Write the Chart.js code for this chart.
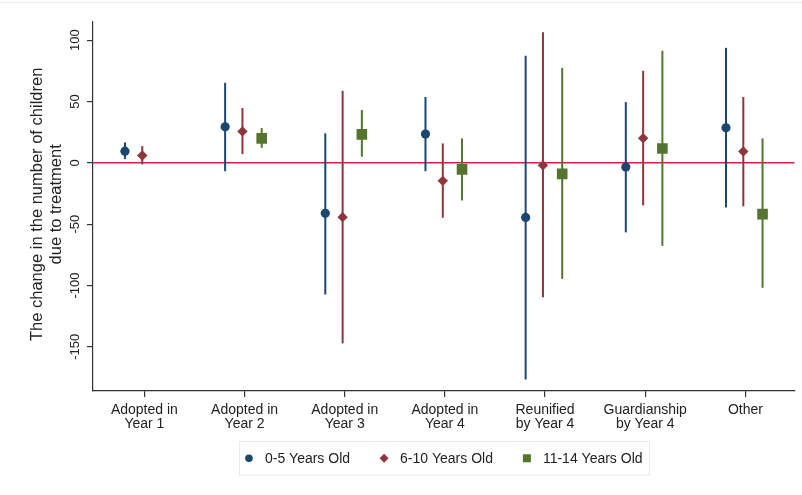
<!DOCTYPE html>
<html>
<head>
<meta charset="utf-8">
<script src="https://cdn.jsdelivr.net/npm/chart.js@4"></script>
<style>
  body{margin:0;background:#fff}
  #wrap{width:802px;height:495px}
</style>
</head>
<body>
<div id="wrap"><canvas id="chart" width="802" height="495"></canvas></div>
<script>
// categories on the x axis (two-line labels)
const categories = [
  ['Adopted in','Year 1'],
  ['Adopted in','Year 2'],
  ['Adopted in','Year 3'],
  ['Adopted in','Year 4'],
  ['Reunified','by Year 4'],
  ['Guardianship','by Year 4'],
  ['Other']
];
const yTicks = [100, 50, 0, -50, -100, -150];
const yTitle = ['The change in the number of children', 'due to treatment'];

const seriesNames = ['0-5 Years Old', '6-10 Years Old', '11-14 Years Old'];

// point estimates and 95% bounds
const est0_5   = [9.5, 29.3, -41.2, 23.4, -44.5, -3.5, 28.5];
const lo0_5    = [3.0, -6.8, -107.3, -6.8, -176.6, -56.7, -36.4];
const hi0_5    = [16.6, 65.2, 24.0, 53.6, 87.2, 49.5, 93.7];

const est6_10  = [6.0, 25.6, -44.3, -14.7, -2.1, 20.1, 9.3];
const lo6_10   = [-1.3, 7.1, -147.2, -44.8, -109.5, -34.7, -35.5];
const hi6_10   = [13.6, 44.6, 58.7, 15.8, 106.3, 75.0, 53.6];

const est11_14 = [null, 19.9, 23.2, -5.4, -9.0, 11.7, -41.8];
const lo11_14  = [null, 12.2, 4.9, -30.7, -94.6, -67.7, -101.9];
const hi11_14  = [null, 28.3, 43.0, 19.9, 77.4, 91.3, 19.9];

const FONT = "'Liberation Sans', Arial, sans-serif";
const colors = ['#1a476f', '#90353b', '#55752f'];
const offsets = [-0.194, -0.021, 0.171];
const styles = ['circle', 'rectRot', 'rect'];
const radii = [4.6, 5.2, 7.5];

const groups = [
  {est: est0_5, lo: lo0_5, hi: hi0_5},
  {est: est6_10, lo: lo6_10, hi: hi6_10},
  {est: est11_14, lo: lo11_14, hi: hi11_14}
];

function buildPoints(g, k){
  const pts = [];
  g.est.forEach((v, i) => {
    if(v === null) return;
    pts.push({x: i + 1 + offsets[k], y: v, lo: g.lo[i], hi: g.hi[i]});
  });
  return pts;
}

const datasets = groups.map((g, k) => ({
  label: seriesNames[k],
  data: buildPoints(g, k),
  backgroundColor: colors[k],
  borderColor: colors[k],
  borderWidth: 0,
  pointStyle: styles[k],
  pointRadius: radii[k],
  pointHoverRadius: radii[k]
}));

// zero line + confidence whiskers, drawn under the markers
const whiskers = {
  id: 'whiskers',
  beforeDatasetsDraw(chart){
    const {ctx, chartArea, scales:{x, y}} = chart;
    ctx.save();
    const y0 = y.getPixelForValue(0);
    ctx.strokeStyle = '#d6204a';
    ctx.lineWidth = 1.5;
    ctx.beginPath();
    ctx.moveTo(chartArea.left, y0);
    ctx.lineTo(chartArea.right, y0);
    ctx.stroke();
    chart.data.datasets.forEach(ds => {
      ctx.strokeStyle = ds.borderColor;
      ctx.lineWidth = 2;
      ds.data.forEach(p => {
        const px = x.getPixelForValue(p.x);
        ctx.beginPath();
        ctx.moveTo(px, y.getPixelForValue(p.lo));
        ctx.lineTo(px, y.getPixelForValue(p.hi));
        ctx.stroke();
      });
    });
    ctx.restore();
  }
};

// rotated y tick labels, y title and boxed legend
const decor = {
  id: 'decor',
  afterDraw(chart){
    const {ctx, chartArea, scales:{y}} = chart;
    ctx.save();
    // faint frame line at top
    ctx.strokeStyle = '#ececec';
    ctx.lineWidth = 1;
    ctx.beginPath();
    ctx.moveTo(0, 2.5); ctx.lineTo(802, 2.5);
    ctx.stroke();

    ctx.fillStyle = '#222';
    ctx.font = '13px ' + FONT;
    ctx.textAlign = 'center';
    ctx.textBaseline = 'alphabetic';
    yTicks.forEach(v => {
      ctx.save();
      ctx.translate(chartArea.left - 14.5, y.getPixelForValue(v));
      ctx.rotate(-Math.PI / 2);
      ctx.fillText(String(v), 0, 0);
      ctx.restore();
    });

    ctx.font = '16.5px ' + FONT;
    const midY = (chartArea.top + chartArea.bottom) / 2 - 2;
    yTitle.forEach((line, i) => {
      ctx.save();
      ctx.translate(41.5 + i * 19.5, midY);
      ctx.rotate(-Math.PI / 2);
      ctx.fillText(line, 0, 0);
      ctx.restore();
    });

    // legend
    ctx.font = '14px ' + FONT;
    const items = chart.data.datasets.map(ds => ({ds, w: ctx.measureText(ds.label).width}));
    const gap = 30;
    let total = items.reduce((s, it) => s + 20 + it.w, 0) + gap * (items.length - 1);
    let x0 = (chartArea.left + chartArea.right) / 2 - total / 2;
    const cy = 458.3;
    ctx.strokeStyle = '#e4ebf1';
    ctx.lineWidth = 1;
    ctx.strokeRect(Math.round(x0 - 6) + 0.5, 441.5, Math.round(total + 12), 33.5);
    ctx.textAlign = 'left';
    ctx.textBaseline = 'middle';
    items.forEach(it => {
      const mx = x0 + 4;
      ctx.fillStyle = it.ds.backgroundColor;
      ctx.beginPath();
      if(it.ds.pointStyle === 'circle'){
        ctx.arc(mx, cy, 3.8, 0, Math.PI * 2);
      } else if(it.ds.pointStyle === 'rectRot'){
        ctx.moveTo(mx - 4.5, cy); ctx.lineTo(mx, cy - 4.5);
        ctx.lineTo(mx + 4.5, cy); ctx.lineTo(mx, cy + 4.5);
        ctx.closePath();
      } else {
        ctx.rect(mx - 4, cy - 4, 8, 8);
      }
      ctx.fill();
      ctx.fillStyle = '#222';
      ctx.fillText(it.ds.label, x0 + 20, cy + 0.5);
      x0 += 20 + it.w + gap;
    });
    ctx.restore();
  }
};

const xHeight = 45;
new Chart(document.getElementById('chart').getContext('2d'), {
  type: 'scatter',
  data: {datasets},
  options: {
    responsive: false,
    animation: false,
    events: [],
    layout: {padding: {left: 0, right: 6, top: 21.7, bottom: 495 - 391 - xHeight}},
    plugins: {legend: {display: false}, tooltip: {enabled: false}},
    scales: {
      x: {
        type: 'linear',
        min: 0.487,
        max: 7.49,
        afterBuildTicks(scale){ scale.ticks = categories.map((c, i) => ({value: i + 1})); },
        afterFit(scale){ scale.height = xHeight; },
        border: {display: true, color: '#333', width: 1.2},
        grid: {display: true, drawOnChartArea: false, drawTicks: true, tickLength: 6, color: '#333', lineWidth: 1.2},
        ticks: {
          autoSkip: false, maxRotation: 0, minRotation: 0, padding: 6, color: '#222',
          font: {family: FONT, size: 14, lineHeight: 1.0},
          callback: v => categories[Math.round(v) - 1]
        }
      },
      y: {
        min: -186,
        max: 115,
        afterBuildTicks(scale){ scale.ticks = yTicks.map(v => ({value: v})); },
        afterFit(scale){ scale.width = 93; },
        border: {display: true, color: '#333', width: 1.2},
        grid: {display: true, drawOnChartArea: false, drawTicks: true, tickLength: 6, color: '#333', lineWidth: 1.2},
        ticks: {display: false}
      }
    }
  },
  plugins: [whiskers, decor]
});
</script>
</body>
</html>
